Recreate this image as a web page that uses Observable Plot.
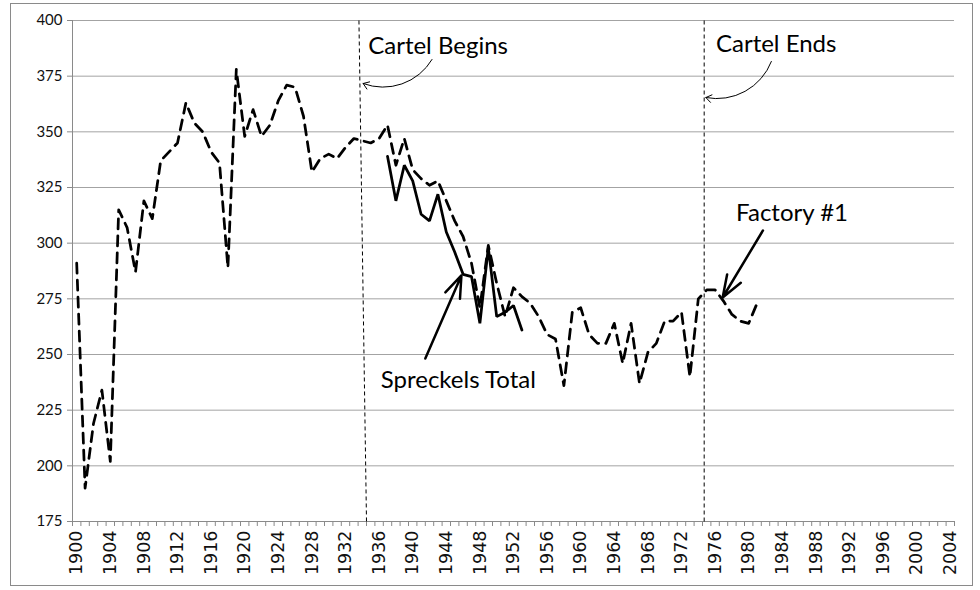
<!DOCTYPE html>
<html>
<head>
<meta charset="utf-8">
<script src="https://cdn.jsdelivr.net/npm/d3@7"></script>
<script src="https://cdn.jsdelivr.net/npm/@observablehq/plot@0.6"></script>
<style>
  html, body { margin: 0; padding: 0; background: #fff; }
  #wrap { position: relative; width: 980px; height: 590px; }
  #border { position: absolute; left: 10px; top: 3px; width: 961px; height: 581px; border: 1px solid #8a8a8a; pointer-events: none; }
</style>
</head>
<body>
<div id="wrap"><div id="border"></div></div>
<script>
// ---- data ----
const dashedYears = [1900,1901,1902,1903,1904,1905,1906,1907,1908,1909,1910,1911,1912,1913,1914,1915,1916,1917,1918,1919,1920,1921,1922,1923,1924,1925,1926,1927,1928,1929,1930,1931,1932,1933,1934,1935,1936,1937,1938,1939,1940,1941,1942,1943,1944,1945,1946,1947,1948,1949,1950,1951,1952,1953,1954,1955,1956,1957,1958,1959,1960,1961,1962,1963,1964,1965,1966,1967,1968,1969,1970,1971,1972,1973,1974,1975,1976,1977,1978,1979,1980,1981];
const dashedValues = [291,190,219,234,202,315,307,287,319,311,337,341,345,363,354,350,341,336,289,378,348,360,348,353,364,371,370,357,332,338,340,338,343,347,346,345,347,353,335,347,333,329,326,328,319,310,303,291,271,299,282,267,280,276,273,267,259,257,236,269,271,259,255,255,264,246,264,237,251,255,265,265,269,240,275,279,279,274,268,265,264,273];

const solidYears = [1937,1938,1939,1940,1941,1942,1943,1944,1945,1946,1947,1948,1949,1950,1951,1952,1953];
const solidValues = [339,319,335,328,313,310,322,305,296,286,285,264,298,267,269,272,261];

const xLabelYears = [1900,1904,1908,1912,1916,1920,1924,1928,1932,1936,1940,1944,1948,1952,1956,1960,1964,1968,1972,1976,1980,1984,1988,1992,1996,2000,2004];
const yTicks = [175,200,225,250,275,300,325,350,375,400];
const xDomain = [1899.5, 2004.5];
const yDomain = [175, 400];

const cartelLines = [
  {name: "Cartel Begins", yearTop: 1933.6, yearBottom: 1934.5},
  {name: "Cartel Ends", yearTop: 1974.7, yearBottom: 1974.7}
];
const noteLabels = ["Cartel Begins", "Cartel Ends", "Factory #1", "Spreckels Total"];
const noteYears = [1934.7, 1976.1, 1978.5, 1936.2];
const noteValues = [388.3, 389.2, 313.3, 238.4];

const curvedArrows = [
  {year1: 1942.3, value1: 382.5, year2: 1934.1, value2: 371.7},
  {year1: 1982.7, value1: 381.6, year2: 1974.9, value2: 365.4}
];
const straightArrows = [
  {year1: 1981.7, value1: 305.7, year2: 1976.9, value2: 275.6},
  {year1: 1941.5, value1: 248.2, year2: 1945.8, value2: 285.5}
];

// ---- tables ----
const dashed = dashedYears.map((y, i) => ({year: y, value: dashedValues[i]}));
const solid = solidYears.map((y, i) => ({year: y, value: solidValues[i]}));
const notes = noteLabels.map((t, i) => ({text: t, year: noteYears[i], value: noteValues[i]}));
const boundaries = d3.range(xDomain[0], xDomain[1] + 0.01, 1);

const chart = Plot.plot({
  width: 980,
  height: 590,
  marginLeft: 72,
  marginRight: 26,
  marginTop: 20,
  marginBottom: 69,
  x: {domain: xDomain, axis: null},
  y: {domain: yDomain, axis: null},
  style: {background: "transparent", fontFamily: "Lato, sans-serif"},
  marks: [
    Plot.gridY(yTicks.filter(d => d > yDomain[0]), {stroke: "#a3a3a3", strokeOpacity: 1, strokeWidth: 1}),
    Plot.ruleX([xDomain[0]], {stroke: "#8a8a8a"}),
    Plot.ruleY([yDomain[0]], {stroke: "#8a8a8a"}),
    Plot.axisY(yTicks, {tickSize: 5, tickFormat: () => "", stroke: "#8a8a8a"}),
    Plot.axisY(yTicks, {tickSize: 0, tickPadding: 10, fontSize: 15, fontFamily: "Lato", color: "#111"}),
    Plot.axisX(boundaries, {tickSize: 5, tickFormat: () => "", stroke: "#8a8a8a"}),
    Plot.axisX(xLabelYears, {tickSize: 0, tickRotate: -90, tickPadding: 9, fontSize: 17.5, fontFamily: "DejaVu Sans", color: "#111", tickFormat: d => String(d)}),
    Plot.link(cartelLines, {x1: "yearTop", x2: "yearBottom", y1: () => yDomain[1], y2: () => yDomain[0], stroke: "#000", strokeWidth: 1, strokeDasharray: "4,3"}),
    Plot.line(dashed, {x: "year", y: "value", stroke: "#000", strokeWidth: 2.75, strokeDasharray: "10,7", strokeLinejoin: "round"}),
    Plot.line(solid, {x: "year", y: "value", stroke: "#000", strokeWidth: 2.75, strokeLinejoin: "miter"}),
    Plot.arrow(curvedArrows, {x1: "year1", y1: "value1", x2: "year2", y2: "value2", bend: 40, stroke: "#000", strokeWidth: 1, headLength: 10, headAngle: 70}),
    Plot.arrow(straightArrows, {x1: "year1", y1: "value1", x2: "year2", y2: "value2", stroke: "#000", strokeWidth: 2.5, headLength: 14, headAngle: 40}),
    Plot.text(notes, {x: "year", y: "value", text: "text", textAnchor: "start", lineAnchor: "middle", fontSize: 24, fontFamily: "Lato", fill: "#000"})
  ]
});
document.getElementById("wrap").prepend(chart);
</script>
</body>
</html>
